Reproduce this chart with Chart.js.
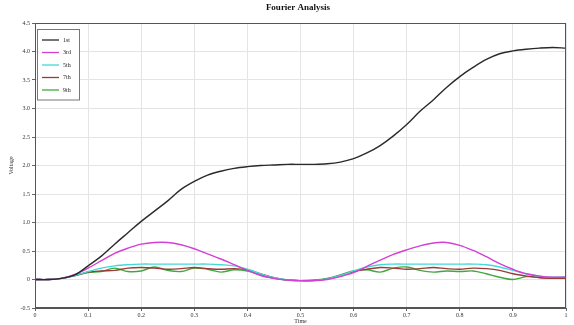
<!DOCTYPE html>
<html>
<head>
<meta charset="utf-8">
<script src="https://cdn.jsdelivr.net/npm/chart.js@4/dist/chart.umd.min.js"></script>
<style>
html,body{margin:0;padding:0;background:#fff;}
#wrap{width:574px;height:325px;position:relative;}
</style>
</head>
<body>
<div id="wrap"><canvas id="c" width="574" height="325"></canvas></div>
<script>
const timeValues = [0,0.025,0.05,0.075,0.1,0.125,0.15,0.175,0.2,0.225,0.25,0.275,0.3,0.325,0.35,0.375,0.4,0.425,0.45,0.475,0.5,0.525,0.55,0.575,0.6,0.625,0.65,0.675,0.7,0.725,0.75,0.775,0.8,0.825,0.85,0.875,0.9,0.925,0.95,0.975,1];
const seriesNames = ["1st","3rd","5th","7th","9th"];
const seriesBlack = [0,0,0.02,0.08,0.24,0.41,0.62,0.82,1.02,1.2,1.38,1.58,1.72,1.83,1.9,1.95,1.98,2.0,2.01,2.02,2.02,2.02,2.03,2.06,2.12,2.22,2.35,2.52,2.72,2.95,3.15,3.37,3.56,3.72,3.86,3.96,4.01,4.04,4.06,4.07,4.06];
const seriesMagenta = [0,0,0.02,0.09,0.2,0.33,0.46,0.55,0.62,0.65,0.65,0.61,0.54,0.45,0.36,0.26,0.16,0.07,0.02,-0.01,-0.02,-0.02,0.0,0.05,0.12,0.23,0.34,0.44,0.52,0.59,0.64,0.65,0.6,0.51,0.4,0.28,0.18,0.1,0.06,0.04,0.04];
const seriesCyan = [0,0,0.02,0.07,0.14,0.2,0.24,0.26,0.27,0.27,0.27,0.27,0.27,0.27,0.26,0.24,0.18,0.1,0.03,-0.01,-0.02,-0.02,0.01,0.07,0.15,0.22,0.26,0.27,0.27,0.27,0.27,0.27,0.27,0.27,0.26,0.22,0.16,0.1,0.06,0.04,0.04];
const seriesBrown = [0,0,0.02,0.07,0.13,0.15,0.16,0.2,0.21,0.2,0.18,0.19,0.21,0.19,0.18,0.19,0.17,0.1,0.03,-0.01,-0.02,-0.02,0.01,0.07,0.14,0.18,0.21,0.2,0.18,0.19,0.21,0.19,0.18,0.2,0.19,0.16,0.1,0.06,0.03,0.02,0.02];
const seriesGreen = [0,0,0.02,0.07,0.12,0.14,0.2,0.14,0.15,0.22,0.16,0.14,0.2,0.18,0.13,0.17,0.15,0.08,0.02,-0.01,-0.02,-0.01,0.02,0.08,0.15,0.17,0.13,0.2,0.22,0.16,0.13,0.15,0.14,0.15,0.1,0.04,0.0,0.05,0.04,0.03,0.04];
const xTickStep = 0.1;
const yTickStep = 0.5;
const chartTitle = "Fourier Analysis";
const xTitle = "Time";
const yTitle = "Voltage";

const colors = ["#2a2a2a","#d43fd4","#45d8d8","#9a3a3a","#3eaa3e"];
const allSeries = [seriesBlack, seriesMagenta, seriesCyan, seriesBrown, seriesGreen];

const datasets = allSeries.map((s, i) => ({
  label: seriesNames[i],
  data: timeValues.map((t, j) => ({x: t, y: s[j]})),
  borderColor: colors[i],
  backgroundColor: colors[i],
  borderWidth: 1.4,
  pointRadius: 0,
  tension: 0.35,
  fill: false
}));

const FONT = "'Liberation Serif', 'DejaVu Serif', serif";

const overlay = {
  id: 'overlay',
  afterDraw(chart) {
    const ctx = chart.ctx;
    const a = chart.chartArea;
    ctx.save();
    ctx.fillStyle = '#111';
    ctx.font = "bold 9px " + FONT;
    ctx.textAlign = 'center';
    ctx.textBaseline = 'middle';
    ctx.fillText(chartTitle, 298, 8);
    ctx.strokeStyle = '#555';
    ctx.lineWidth = 1;
    ctx.strokeRect(a.left + 0.5, a.top + 0.5, a.right - a.left - 1, a.bottom - a.top - 1);
    const lx = a.left + 2, ly = a.top + 6, lw = 42, rowH = 12.5;
    const lh = rowH * seriesNames.length + 8;
    ctx.fillStyle = '#fff';
    ctx.fillRect(lx, ly, lw, lh);
    ctx.strokeStyle = '#777';
    ctx.strokeRect(lx + 0.5, ly + 0.5, lw, lh);
    ctx.font = "6px " + FONT;
    ctx.textAlign = 'left';
    seriesNames.forEach((n, i) => {
      const y = ly + 11 + i * rowH;
      ctx.strokeStyle = colors[i];
      ctx.lineWidth = 1.3;
      ctx.beginPath();
      ctx.moveTo(lx + 5, y);
      ctx.lineTo(lx + 22, y);
      ctx.stroke();
      ctx.fillStyle = '#222';
      ctx.fillText(n, lx + 26, y);
    });
    ctx.restore();
  }
};

new Chart(document.getElementById('c'), {
  type: 'line',
  data: { datasets },
  options: {
    responsive: false,
    animation: false,
    devicePixelRatio: 1,
    layout: { padding: { top: 23, right: 8, left: 0, bottom: 0 } },
    plugins: { legend: { display: false }, title: { display: false }, tooltip: { enabled: false } },
    scales: {
      x: {
        type: 'linear', min: 0, max: 1,
        ticks: { stepSize: xTickStep, font: { size: 6, family: FONT }, color: '#333', padding: 1, maxRotation: 0,
          callback: v => Number(v.toFixed(2)).toString() },
        grid: { color: '#e4e4e4', tickLength: 3, tickColor: '#666' },
        border: { color: '#555' },
        title: { display: true, text: xTitle, font: { size: 6, family: FONT }, color: '#333', padding: 0 },
        afterFit(s) { s.height = 17; }
      },
      y: {
        min: -0.5, max: 4.5,
        ticks: { stepSize: yTickStep, font: { size: 6, family: FONT }, color: '#333', padding: 2 },
        grid: { color: '#e4e4e4', tickLength: 3, tickColor: '#666' },
        border: { color: '#555' },
        title: { display: true, text: yTitle, font: { size: 6, family: FONT }, color: '#333', padding: { top: 8, bottom: 0 } },
        afterFit(s) { s.width = 35; }
      }
    }
  },
  plugins: [overlay]
});
</script>
</body>
</html>
